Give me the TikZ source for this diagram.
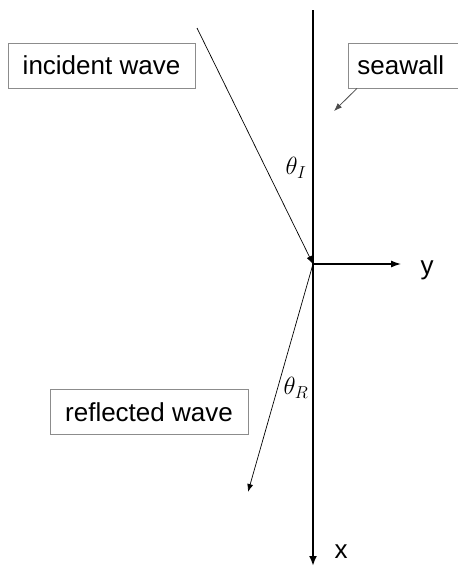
\documentclass[tikz,border=0pt]{standalone}
\usepackage{fontspec}
\setmainfont{Liberation Sans}
\usepackage{amsmath}
\usetikzlibrary{arrows.meta,positioning,calc}

\begin{document}
\begin{tikzpicture}[x=1pt, y=-1pt, font=\fontsize{26}{30}\selectfont,
  labelbox/.style={draw=black!45, line width=0.8pt, minimum height=45pt, inner ysep=2pt},
  ray/.style={line width=0.7pt, -{Latex[length=8pt,width=6pt]}},
  axis/.style={line width=1.2pt, -{Latex[length=10pt,width=7pt]}}]
\useasboundingbox (0,0) rectangle (458,566);
% seawall and axes
\coordinate (O) at (313,264);
\coordinate (walltop) at (313,10);
\coordinate (xend) at (313,566);
\coordinate (yend) at (401,264);
\draw[line width=2.6pt, -{Latex[length=10pt,width=8pt]}] (walltop) -- (xend);
\draw[axis] (O) -- (yend);
\node (xlab) at (341,552) {x};
\node (ylab) at (427,270) {y};
% waves
\coordinate (instart) at (197,28);
\coordinate (refend) at (248,492);
\draw[ray] (instart) -- (O);
\draw[ray] (O) -- (refend);
\node (thI) at (296,168) {$\theta_I$};
\node (thR) at (296,388) {$\theta_R$};
% labels
\node[labelbox, minimum width=187pt] (incident) at (101.5,65.5) {incident wave};
\node[labelbox, minimum width=198pt] (reflected) at (149,412) {reflected wave};
\node[labelbox, anchor=west, text width=100pt, align=left, inner xsep=9pt] (seawall) at (348,65.5) {seawall};
\coordinate (wallpt) at (334,111);
\draw[line width=0.8pt, draw=black!70, -{Latex[length=8pt,width=6pt]}] ([xshift=9pt]seawall.south west) -- (wallpt);
\end{tikzpicture}
\end{document}
